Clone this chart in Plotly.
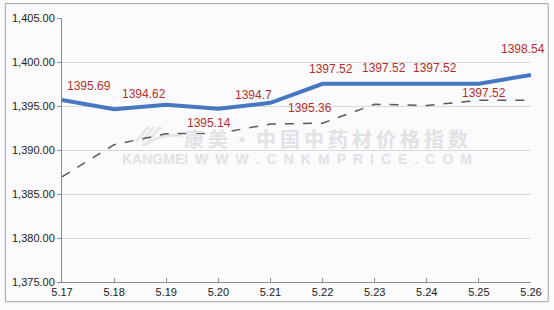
import plotly.graph_objects as go

categories = ["5.17", "5.18", "5.19", "5.20", "5.21", "5.22", "5.23", "5.24", "5.25", "5.26"]
index_values = [1395.69, 1394.62, 1395.14, 1394.7, 1395.36, 1397.52, 1397.52, 1397.52, 1397.52, 1398.54]
reference_values = [1386.95, 1390.6, 1391.85, 1391.9, 1392.95, 1393.05, 1395.2, 1395.05, 1395.65, 1395.65]
label_texts = ["1395.69", "1394.62", "1395.14", "1394.7", "1395.36", "1397.52", "1397.52", "1397.52", "1397.52", "1398.54"]
y_ticks = [1375, 1380, 1385, 1390, 1395, 1400, 1405]

# label offsets (pixels) relative to each point, as placed in the original
label_dx = [27, 30, 43, 35, 40, 8, 9, 8, 5, -8]
label_dy = [14, 15, -18, 14, -5, 15, 16, 16, -9, 26]

W, H = 554, 310
ML, MR, MT, MB = 58, 20, 13, 22
PW, PH = W - ML - MR, H - MT - MB

fig = go.Figure()
fig.add_trace(go.Scatter(
    x=categories, y=reference_values, mode="lines",
    line=dict(color="#5a5a5a", width=1.5, dash="dash"),
    showlegend=False, hoverinfo="skip",
))
fig.add_trace(go.Scatter(
    x=categories, y=index_values, mode="lines",
    line=dict(color="#4677c2", width=4),
    showlegend=False, hoverinfo="skip",
))

annotations = []
for i, (v, t, dx, dy) in enumerate(zip(index_values, label_texts, label_dx, label_dy)):
    annotations.append(dict(
        x=i, y=v, xref="x", yref="y", text=t, showarrow=False,
        xshift=dx, yshift=dy,
        font=dict(family="Liberation Sans, Arial", size=12, color="#b5302a"),
    ))

def px_x(p):
    return (p - ML) / PW

def px_y(p):
    return (H - MB - p) / PH

wm_color = "#e1e1e6"
annotations.append(dict(
    x=px_x(326), y=px_y(138), xref="paper", yref="paper", showarrow=False,
    text="\u2009".join("康美·中国中药材价格指数"),
    font=dict(family="Noto Sans CJK SC", size=20, color=wm_color, weight="bold"),
))
annotations.append(dict(
    x=px_x(297), y=px_y(160), xref="paper", yref="paper", showarrow=False,
    text="KANGMEI\u2002" + "\u2002".join("WWW.CNKMPRICE.COM"),
    font=dict(family="Liberation Sans, Arial", size=14, color=wm_color, weight="bold"),
))

shapes = [dict(
    type="rect", xref="paper", yref="paper",
    x0=px_x(0.5), x1=px_x(551.5), y0=px_y(308.5), y1=px_y(-2),
    line=dict(color="#a0a0a0", width=1), fillcolor="rgba(0,0,0,0)", layer="below",
)]

# faint watermark logo swooshes
for (xa, ya, xb, yb) in [(133, 142, 146, 126), (139, 142, 152, 126), (145, 142, 158, 126)]:
    shapes.append(dict(
        type="line", xref="paper", yref="paper",
        x0=px_x(xa), y0=px_y(ya), x1=px_x(xb), y1=px_y(yb),
        line=dict(color="#e6e6ea", width=3), layer="below",
    ))
shapes.append(dict(
    type="path", xref="paper", yref="paper",
    path="M {} {} Q {} {} {} {}".format(px_x(140), px_y(146), px_x(160), px_y(132), px_x(180), px_y(136)),
    line=dict(color="#e6e6ea", width=3), layer="below",
))

fig.update_layout(
    width=W, height=H,
    margin=dict(l=ML, r=MR, t=MT, b=MB),
    paper_bgcolor="#fbfbfd", plot_bgcolor="#fbfbfd",
    font=dict(family="Liberation Sans, Arial", size=11, color="#222222"),
    annotations=annotations, shapes=shapes,
    xaxis=dict(
        type="category", categoryorder="array", categoryarray=categories,
        range=[0, len(categories) - 1], showgrid=False,
        showline=True, linecolor="#8c8c8c", linewidth=1,
        ticks="inside", ticklen=4, tickcolor="#8c8c8c",
        tickfont=dict(size=11, color="#222222"), zeroline=False,
    ),
    yaxis=dict(
        range=[1375, 1405], tickvals=y_ticks, tickformat=",.2f",
        showgrid=True, gridcolor="#d9d9d9", gridwidth=1,
        showline=True, linecolor="#8c8c8c", linewidth=1,
        ticks="outside", ticklen=4, tickcolor="#8c8c8c",
        tickfont=dict(size=11, color="#222222"), zeroline=False,
    ),
)

fig.write_html("out.html")
